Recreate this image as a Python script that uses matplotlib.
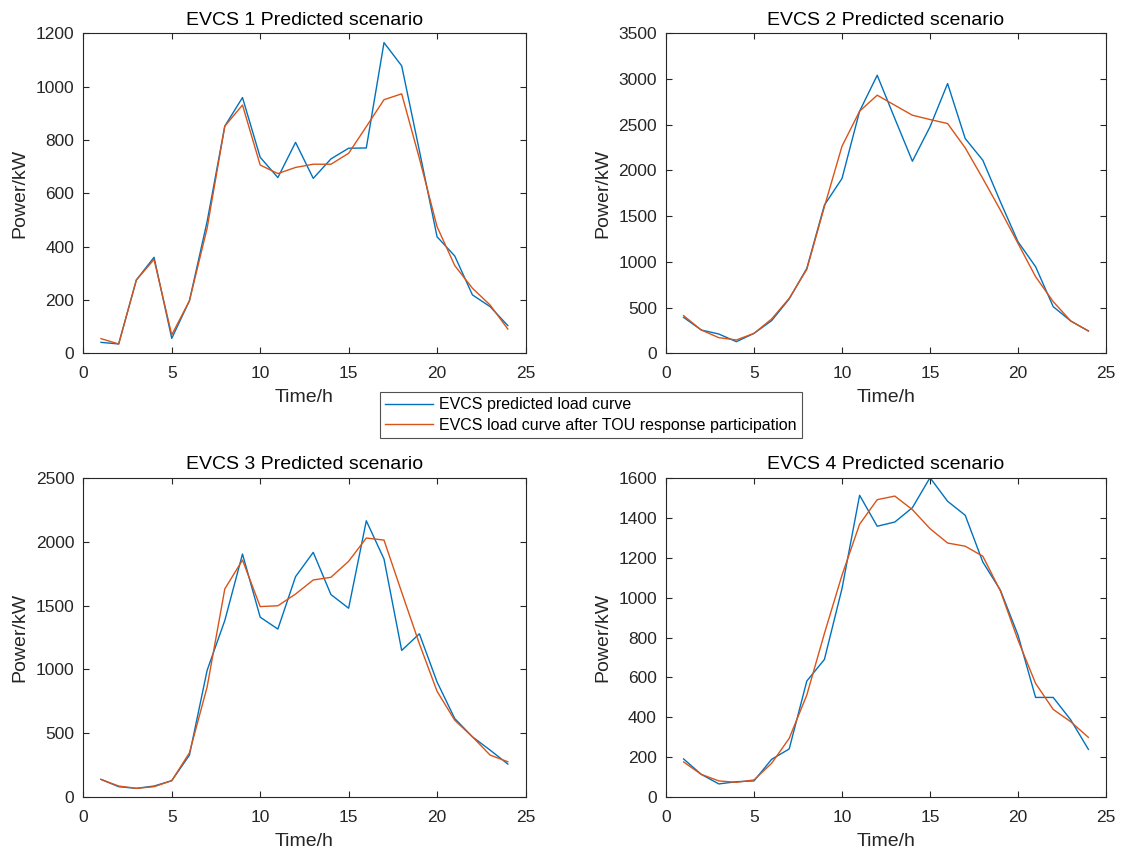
import matplotlib
matplotlib.use("Agg")
import matplotlib.pyplot as plt

plt.rcParams['font.family'] = ['Liberation Sans', 'DejaVu Sans']

hours = list(range(1, 25))

evcs1_pred = [41, 35, 275, 360, 56, 197, 494, 852, 959, 735, 659, 791,
              656, 729, 769, 770, 1165, 1078, 760, 437, 365, 219, 175, 104]
evcs1_tou = [55, 35, 275, 352, 69, 197, 469, 852, 931, 706, 674, 697,
             709, 709, 750, 850, 951, 973, 731, 475, 329, 244, 181, 91]

evcs2_pred = [393, 255, 211, 127, 218, 357, 594, 929, 1621, 1912, 2648, 3041,
              2568, 2101, 2477, 2950, 2349, 2112, 1657, 1220, 947, 510, 353, 244]
evcs2_tou = [412, 255, 171, 146, 218, 375, 601, 918, 1603, 2265, 2648, 2823,
             2713, 2604, 2557, 2513, 2247, 1912, 1566, 1202, 838, 565, 353, 244]

evcs3_pred = [140, 83, 70, 88, 130, 330, 993, 1383, 1903, 1409, 1316, 1726,
              1916, 1586, 1479, 2163, 1864, 1149, 1279, 902, 616, 473, 369, 260]
evcs3_tou = [140, 88, 70, 83, 130, 348, 863, 1630, 1856, 1492, 1498, 1590,
             1700, 1721, 1846, 2028, 2012, 1604, 1201, 829, 603, 473, 330, 278]

evcs4_pred = [192, 115, 67, 78, 82, 190, 242, 582, 690, 1045, 1512, 1357,
              1378, 1450, 1600, 1482, 1412, 1178, 1037, 812, 500, 500, 387, 240]
evcs4_tou = [177, 115, 82, 75, 87, 170, 295, 512, 820, 1112, 1367, 1490,
             1508, 1440, 1345, 1273, 1257, 1207, 1033, 787, 570, 440, 378, 300]

titles = ["EVCS 1 Predicted scenario", "EVCS 2 Predicted scenario",
          "EVCS 3 Predicted scenario", "EVCS 4 Predicted scenario"]
ylims = [1200, 3500, 2500, 1600]
ysteps = [200, 500, 500, 200]
legend_labels = ["EVCS predicted load curve",
                 "EVCS load curve after TOU response participation"]

series = [(evcs1_pred, evcs1_tou), (evcs2_pred, evcs2_tou),
          (evcs3_pred, evcs3_tou), (evcs4_pred, evcs4_tou)]

W, H = 1126, 852
fig = plt.figure(figsize=(W / 100, H / 100), dpi=100)

# pixel boxes: left, top, right, bottom
boxes = [(83.3, 33.3, 525.5, 353.3), (666, 33.3, 1106, 353.3),
         (83.3, 477.7, 525.5, 797.3), (666, 477.7, 1106, 797.3)]

blue = '#0072BD'
orange = '#D95319'
axcol = '#262626'

lines = None
for i, (l, t, r, b) in enumerate(boxes):
    ax = fig.add_axes([l / W, 1 - b / H, (r - l) / W, (b - t) / H])
    pred, tou = series[i]
    l1, = ax.plot(hours, pred, color=blue, lw=1.0)
    l2, = ax.plot(hours, tou, color=orange, lw=1.0)
    lines = (l1, l2)
    ax.set_xlim(0, 25)
    ax.set_ylim(0, ylims[i])
    ax.set_xticks(range(0, 26, 5))
    ax.set_yticks(range(0, ylims[i] + 1, ysteps[i]))
    ax.tick_params(direction='in', top=True, right=True, labelsize=12.5,
                   colors=axcol, length=4, width=0.8)
    ax.tick_params(axis='x', pad=9)
    ax.tick_params(axis='y', pad=6.5)
    for s in ax.spines.values():
        s.set_color(axcol)
        s.set_linewidth(0.8)
    ax.set_title(titles[i], fontsize=14, pad=6, color='black')
    ax.set_xlabel("Time/h", fontsize=14, color=axcol, labelpad=6)
    ax.set_ylabel("Power/kW", fontsize=14, color=axcol, labelpad=5)

leg = fig.legend(lines, legend_labels, loc='center',
                 bbox_to_anchor=(591 / W, 1 - 415 / H), fontsize=11.5,
                 frameon=True, fancybox=False, edgecolor=axcol,
                 handlelength=3.0, borderpad=0.35, labelspacing=0.35,
                 handletextpad=0.35, borderaxespad=0)
leg.get_frame().set_linewidth(0.8)

fig.savefig("out.png", dpi=100, facecolor='white')
